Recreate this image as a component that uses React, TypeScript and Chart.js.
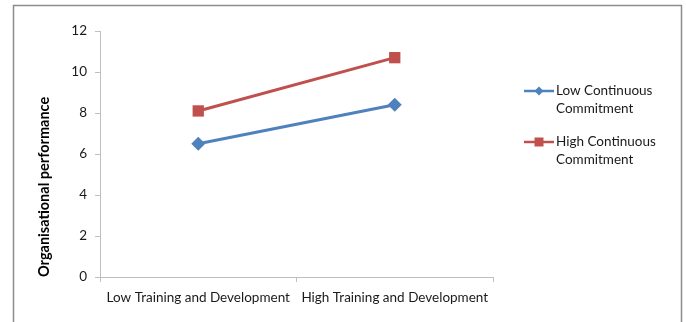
import React, { useEffect, useRef } from "react";
import { Chart, registerables } from "chart.js";

Chart.register(...registerables);

const categories = ["Low Training and Development", "High Training and Development"];
const lowCommitment = [6.5, 8.4];
const highCommitment = [8.1, 10.7];
const seriesLabels = [["Low Continuous", "Commitment"], ["High Continuous", "Commitment"]];
const yTitle = "Organisational performance";

const BLUE = "#4F81BD";
const RED = "#C0504D";
const AXIS = "#BFBFBF";
const TEXT = "#1a1a1a";
const FONT = "Lato, 'Open Sans', sans-serif";

// Outer frame around the whole chart
const framePlugin = {
  id: "frame",
  beforeDraw(chart: any) {
    const { ctx } = chart;
    ctx.save();
    ctx.strokeStyle = "#8c8c8c";
    ctx.lineWidth = 1.5;
    ctx.beginPath();
    ctx.moveTo(13.5, 340);
    ctx.lineTo(13.5, 5.5);
    ctx.lineTo(681.5, 5.5);
    ctx.lineTo(681.5, 340);
    ctx.stroke();
    ctx.restore();
  },
};

// Legend on the right with two-line labels
const sideLegendPlugin = {
  id: "sideLegend",
  afterDraw(chart: any) {
    const { ctx } = chart;
    const x0 = 524;
    const x1 = 554;
    const mid = (x0 + x1) / 2;
    const tops = [91, 142];
    chart.data.datasets.forEach((ds: any, i: number) => {
      const y = tops[i];
      ctx.save();
      ctx.strokeStyle = ds.borderColor;
      ctx.lineWidth = 2.5;
      ctx.beginPath();
      ctx.moveTo(x0, y);
      ctx.lineTo(x1, y);
      ctx.stroke();
      ctx.fillStyle = ds.backgroundColor;
      ctx.beginPath();
      if (ds.pointStyle === "rectRot") {
        const r = 4.5;
        ctx.moveTo(mid, y - r);
        ctx.lineTo(mid + r, y);
        ctx.lineTo(mid, y + r);
        ctx.lineTo(mid - r, y);
        ctx.closePath();
      } else {
        ctx.rect(mid - 4.5, y - 4.5, 9, 9);
      }
      ctx.fill();
      ctx.fillStyle = TEXT;
      ctx.font = `13.5px ${FONT}`;
      ctx.textBaseline = "middle";
      ctx.textAlign = "left";
      seriesLabels[i].forEach((line, j) => {
        ctx.fillText(line, 556, y + j * 18);
      });
      ctx.restore();
    });
  },
};

export default function App() {
  const canvasRef = useRef<HTMLCanvasElement | null>(null);

  useEffect(() => {
    if (!canvasRef.current) return;
    const chart = new Chart(canvasRef.current, {
      type: "line",
      data: {
        labels: categories,
        datasets: [
          {
            label: seriesLabels[0].join(" "),
            data: lowCommitment,
            borderColor: BLUE,
            backgroundColor: BLUE,
            borderWidth: 3,
            pointStyle: "rectRot",
            pointRadius: 7,
            pointBorderWidth: 0,
          },
          {
            label: seriesLabels[1].join(" "),
            data: highCommitment,
            borderColor: RED,
            backgroundColor: RED,
            borderWidth: 3,
            pointStyle: "rect",
            pointRadius: 8,
            pointBorderWidth: 0,
          },
        ],
      },
      options: {
        responsive: false,
        animation: false,
        devicePixelRatio: 1,
        layout: { padding: { left: 30, top: 31, right: 193, bottom: 0 } },
        plugins: {
          legend: { display: false },
          tooltip: { enabled: false },
        },
        scales: {
          x: {
            type: "category",
            offset: true,
            grid: {
              offset: true,
              drawOnChartArea: false,
              drawTicks: true,
              tickLength: 5,
              color: AXIS,
            },
            border: { display: true, color: AXIS, width: 1 },
            ticks: {
              color: TEXT,
              padding: 8,
              maxRotation: 0,
              autoSkip: false,
              font: { family: FONT, size: 13.5 },
            },
            afterFit(scale: any) {
              scale.height = 45;
            },
          },
          y: {
            min: 0,
            max: 12,
            ticks: {
              stepSize: 2,
              color: TEXT,
              padding: 8,
              font: { family: FONT, size: 13.5 },
            },
            grid: {
              drawOnChartArea: false,
              drawTicks: true,
              tickLength: 5,
              color: AXIS,
            },
            border: { display: true, color: AXIS, width: 1 },
            title: {
              display: true,
              text: yTitle,
              align: "start",
              color: "#000",
              padding: { top: 6, bottom: 0 },
              font: { family: FONT, size: 14.5, weight: "bold" },
            },
            afterFit(scale: any) {
              scale.width = 70;
            },
          },
        },
      },
      plugins: [framePlugin, sideLegendPlugin],
    } as any);
    return () => chart.destroy();
  }, []);

  return (
    <div style={{ position: "fixed", left: 0, top: 0, width: 686, height: 322, background: "#fff" }}>
      <canvas ref={canvasRef} width={686} height={322} style={{ width: 686, height: 322 }} />
    </div>
  );
}
